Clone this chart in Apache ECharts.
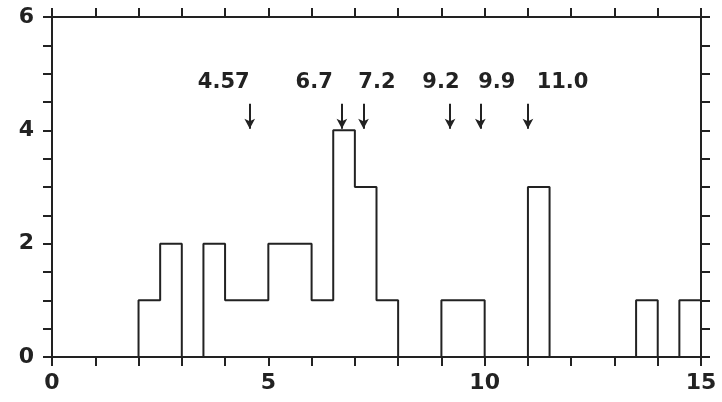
<!DOCTYPE html>
<html>
<head>
<meta charset="utf-8">
<script src="https://cdn.jsdelivr.net/npm/echarts@6/dist/echarts.min.js"></script>
<style>
html,body{margin:0;padding:0;background:#fff;}
#chart{width:722px;height:402px;}
</style>
</head>
<body>
<div id="chart"></div>
<script>
// ---- data ----
var binStart = 0;
var binWidth = 0.5;
var counts = [0,0,0,0,1,2,0,2,1,1,2,2,1,4,3,1,0,0,1,1,0,0,3,0,0,0,0,1,0,1];
var markValues = [4.57, 6.7, 7.2, 9.2, 9.9, 11.0];
var markLabels = ['4.57', '6.7', '7.2', '9.2', '9.9', '11.0'];
var xTicks = [0, 5, 10, 15];
var yTicks = [0, 2, 4, 6];

// ---- layout (positions of annotation texts, in data units) ----
var labelAnchorX = [3.97, 6.06, 7.51, 8.99, 10.28, 11.80];
var labelAnchorY = 4.85;
var arrowTop = 4.47, arrowTip = 4.03;

var ink = '#222222';
var font = 'DejaVu Sans';

var stepData = [];
for (var i = 0; i < counts.length; i++) stepData.push([binStart + i * binWidth, counts[i]]);
stepData.push([binStart + counts.length * binWidth, counts[counts.length - 1]]);

var arrowLines = markValues.map(function (v) {
  return [{coord: [v, arrowTop]}, {coord: [v, arrowTip]}];
});
var labelData = markValues.map(function (v, i) {
  return {value: [labelAnchorX[i], labelAnchorY], name: markLabels[i]};
});

function axisCommon(extra) {
  var o = {
    axisLine: {show: true, onZero: false, lineStyle: {color: ink, width: 2}},
    axisTick: {show: true, inside: false, length: 9, lineStyle: {color: ink, width: 2}},
    splitLine: {show: false},
    minorSplitLine: {show: false}
  };
  for (var k in extra) o[k] = extra[k];
  return o;
}

var chart = echarts.init(document.getElementById('chart'));
chart.setOption({
  animation: false,
  backgroundColor: '#fff',
  grid: {left: 52, right: 21, top: 17, bottom: 45, containLabel: false},
  xAxis: [
    axisCommon({type: 'value', position: 'bottom', min: xTicks[0], max: xTicks[xTicks.length - 1], interval: 5,
      minorTick: {show: true, splitNumber: 5, length: 9, lineStyle: {color: ink, width: 2}},
      axisLabel: {show: true, margin: 15, color: ink, fontFamily: font, fontWeight: 'bold', fontSize: 22}}),
    axisCommon({type: 'value', position: 'top', min: xTicks[0], max: xTicks[xTicks.length - 1], interval: 5,
      minorTick: {show: true, splitNumber: 5, length: 9, lineStyle: {color: ink, width: 2}},
      axisLabel: {show: false}})
  ],
  yAxis: [
    axisCommon({type: 'value', position: 'left', min: yTicks[0], max: yTicks[yTicks.length - 1], interval: 2,
      minorTick: {show: true, splitNumber: 4, length: 9, lineStyle: {color: ink, width: 2}},
      axisLabel: {show: true, margin: 18, color: ink, fontFamily: font, fontWeight: 'bold', fontSize: 22}}),
    axisCommon({type: 'value', position: 'right', min: yTicks[0], max: yTicks[yTicks.length - 1], interval: 2,
      minorTick: {show: true, splitNumber: 4, length: 9, lineStyle: {color: ink, width: 2}},
      axisLabel: {show: false}})
  ],
  series: [
    {
      type: 'line',
      xAxisIndex: 0, yAxisIndex: 0,
      step: 'end',
      data: stepData,
      showSymbol: false,
      symbol: 'none',
      lineStyle: {color: ink, width: 2},
      markLine: {
        silent: true,
        symbol: ['none', 'arrow'],
        symbolSize: [8, 10],
        label: {show: false},
        lineStyle: {color: ink, width: 2, type: 'solid'},
        data: arrowLines
      }
    },
    {
      type: 'scatter',
      xAxisIndex: 0, yAxisIndex: 0,
      symbolSize: 0,
      itemStyle: {opacity: 1, color: ink},
      data: labelData,
      label: {
        show: true, position: 'inside', opacity: 1,
        formatter: function (p) { return p.name; },
        color: ink, fontFamily: font, fontWeight: 'bold', fontSize: 21
      }
    }
  ]
});
</script>
</body>
</html>
